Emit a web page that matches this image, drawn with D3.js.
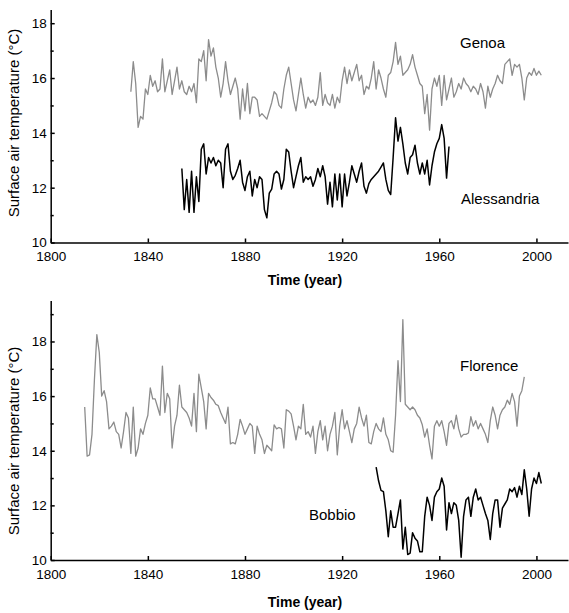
<!DOCTYPE html>
<html>
<head>
<meta charset="utf-8">
<script src="https://cdn.jsdelivr.net/npm/d3@7"></script>
<style>
  html, body { margin: 0; padding: 0; background: #fff; }
  svg { display: block; font-family: "Liberation Sans", Arial, sans-serif; }
</style>
</head>
<body>
<svg id="chart" width="569" height="613"></svg>
<script>
// ---------------- DATA ----------------
const xTicks = [1800, 1840, 1880, 1920, 1960, 2000];
const yTicksMajor = [10, 12, 14, 16, 18];
const yTicksMinorTop = [11, 13, 15, 17];
const yTicksMinorBottom = [11, 13, 15, 17, 19];

const genoaStart = 1833;
const genoaTemp = [
  15.5,16.6,15.8,14.2,14.6,14.5,15.6,15.4,16.1,15.7,
  15.9,15.5,15.6,16.7,15.5,15.9,16.3,15.4,15.9,16.4,
  15.6,15.9,15.5,15.4,15.7,15.5,15.8,15.1,16.7,16.6,
  17.0,15.9,17.4,16.8,17.1,16.4,16.0,15.3,15.8,16.6,
  15.9,15.4,15.7,16.0,15.6,14.5,15.6,14.8,15.8,14.7,
  15.3,15.3,15.2,14.6,14.7,14.6,14.5,14.8,15.1,15.5,
  15.4,15.0,14.9,15.6,16.1,16.4,15.8,15.2,14.8,15.4,
  16.0,15.4,14.9,15.3,15.1,15.2,15.0,15.3,16.2,15.0,
  15.4,15.1,15.0,15.4,14.9,15.3,15.1,15.9,16.4,15.8,
  16.3,15.9,16.2,16.5,15.9,16.1,15.4,15.7,15.6,16.0,
  16.6,15.6,16.3,16.0,15.6,15.3,16.1,16.2,16.6,17.3,
  16.5,16.8,16.1,16.2,16.3,16.5,16.85,16.4,16.1,15.8,
  15.7,14.7,15.4,14.1,15.6,16.0,15.7,16.1,15.0,16.1,
  15.2,15.6,16.0,15.3,15.5,15.8,15.6,16.0,15.8,15.7,
  15.5,15.7,15.6,15.4,15.8,15.5,14.9,15.7,15.3,15.6,
  15.8,16.1,15.9,15.8,16.5,16.6,16.7,16.1,16.5,16.4,
  16.5,16.0,15.2,16.0,16.2,16.1,16.35,16.1,16.25,16.1
];

const alessandriaStart = 1854;
const alessandriaTemp = [
  12.7,11.2,12.3,11.1,12.6,11.1,12.4,11.5,13.4,13.6,
  12.5,13.1,12.9,13.1,12.8,13.0,12.9,12.0,13.4,13.6,
  12.6,12.3,12.45,12.7,13.0,12.2,11.9,12.4,12.6,11.7,
  12.3,12.0,12.4,12.3,11.2,10.9,11.8,11.95,12.5,12.6,
  12.5,11.95,12.3,13.4,13.3,12.6,12.0,12.4,12.8,13.1,
  12.2,12.4,12.3,12.4,12.05,12.3,12.7,12.4,12.8,12.4,
  11.4,12.2,11.3,12.5,11.55,12.5,11.3,12.5,11.7,12.2,
  12.8,12.5,12.2,12.6,12.9,12.05,11.8,12.15,12.3,12.4,
  12.5,12.6,12.75,12.9,12.3,11.9,11.75,13.1,14.55,13.7,
  14.2,13.6,12.9,12.5,13.1,13.2,13.55,12.9,12.5,12.9,
  12.5,13.0,12.1,12.8,13.3,13.6,13.8,14.3,13.8,12.35,
  13.5
];

const florenceStart = 1814;
const florenceTemp = [
  15.6,13.8,13.85,14.6,16.6,18.25,17.6,16.0,16.2,15.8,
  14.8,14.9,15.05,14.7,14.6,14.1,14.7,15.4,15.2,13.9,
  15.6,13.8,14.1,14.8,14.6,15.0,15.3,16.3,15.9,15.9,
  15.6,15.3,17.1,15.4,16.1,15.9,14.1,14.9,15.3,16.4,
  15.6,15.5,15.4,15.2,14.9,16.1,14.7,16.8,16.3,15.8,
  14.8,16.1,15.95,15.85,15.7,15.65,15.4,15.2,15.0,15.6,
  14.25,14.3,14.25,14.6,15.15,14.9,14.6,14.8,15.0,14.9,
  13.9,14.9,14.6,14.4,13.9,14.2,14.1,14.0,14.95,14.8,
  14.85,14.8,14.1,15.5,15.45,15.35,14.9,14.4,14.9,14.8,
  15.7,14.6,14.7,14.5,14.9,13.9,14.7,15.1,14.4,14.9,
  14.0,14.6,14.9,15.4,13.85,14.9,15.5,14.8,15.1,14.7,
  14.3,14.8,15.0,15.6,15.2,14.9,15.3,14.3,14.25,14.7,
  15.0,14.8,14.7,15.2,14.6,14.4,14.0,13.95,15.3,17.3,
  15.8,18.8,15.7,15.6,15.5,15.6,15.5,15.3,15.2,14.95,
  14.5,14.8,14.2,13.7,14.9,15.1,14.9,15.1,14.7,14.2,
  15.0,15.1,14.8,15.3,14.8,14.5,14.6,14.6,14.65,15.25,
  14.9,15.1,14.8,15.0,14.8,14.6,14.3,15.1,15.6,15.3,
  14.8,15.3,15.5,15.6,15.85,15.7,16.1,15.8,14.9,16.0,
  16.2,16.7
];

const bobbioStart = 1934;
const bobbioTemp = [
  13.4,12.9,12.55,12.5,11.8,10.85,11.8,11.2,11.2,11.7,
  12.2,10.4,11.2,10.2,10.25,11.0,10.8,10.7,10.3,10.3,
  11.6,12.3,12.0,11.45,12.3,12.5,12.6,13.0,12.7,11.1,
  12.1,11.7,12.1,12.0,11.45,10.1,11.6,12.2,12.3,11.6,
  12.3,12.6,12.2,12.3,12.0,11.7,11.45,10.75,11.7,12.2,
  12.2,11.2,11.9,12.05,12.2,12.6,12.5,12.65,12.3,12.7,
  12.4,13.3,12.6,11.6,12.6,13.0,12.8,13.2,12.8
];

// ---------------- DRAW ----------------
const svg = d3.select("#chart");
const GRAY = "#8c8c8c";
const BLACK = "#000000";

function toPoints(start, values) {
  return values.map((v, i) => ({ year: start + i, t: v }));
}

const panels = [
  {
    yTop: 9.5, yBottom: 242.5, yMax: 18.5, minor: yTicksMinorTop,
    titleY: 123, xTitleY: 285,
    series: [
      { name: "Genoa", start: genoaStart, values: genoaTemp, color: GRAY, width: 1.3, lx: 460, ly: 48 },
      { name: "Alessandria", start: alessandriaStart, values: alessandriaTemp, color: BLACK, width: 1.5, lx: 461, ly: 204 }
    ]
  },
  {
    yTop: 300.5, yBottom: 560, yMax: 19.5, minor: yTicksMinorBottom,
    titleY: 441, xTitleY: 607,
    series: [
      { name: "Florence", start: florenceStart, values: florenceTemp, color: GRAY, width: 1.3, lx: 460, ly: 371 },
      { name: "Bobbio", start: bobbioStart, values: bobbioTemp, color: BLACK, width: 1.5, lx: 309, ly: 519.5 }
    ]
  }
];

const x = d3.scaleLinear().domain([1800, 2013]).range([50.7, 568]);

panels.forEach(p => {
  const y = d3.scaleLinear().domain([10, p.yMax]).range([p.yBottom, p.yTop]);
  const g = svg.append("g");

  // series lines
  p.series.forEach(s => {
    const line = d3.line().x(d => x(d.year)).y(d => y(d.t));
    g.append("path")
      .datum(toPoints(s.start, s.values))
      .attr("fill", "none")
      .attr("stroke", s.color)
      .attr("stroke-width", s.width)
      .attr("stroke-linejoin", "round")
      .attr("d", line);
    g.append("text")
      .attr("x", s.lx).attr("y", s.ly)
      .attr("font-size", 15)
      .attr("fill", "#000")
      .text(s.name);
  });

  // y axis (major)
  const yAxis = g.append("g")
    .attr("transform", `translate(${x(1800)},0)`)
    .call(d3.axisLeft(y).tickValues(yTicksMajor).tickFormat(d3.format("d"))
      .tickSizeInner(-4).tickSizeOuter(0).tickPadding(4));
  // y minor ticks
  const yMinor = g.append("g")
    .attr("transform", `translate(${x(1800)},0)`)
    .call(d3.axisLeft(y).tickValues(p.minor).tickFormat("")
      .tickSizeInner(-3).tickSizeOuter(0));
  yMinor.select(".domain").remove();

  // x axis
  const xAxis = g.append("g")
    .attr("transform", `translate(0,${p.yBottom})`)
    .call(d3.axisBottom(x).tickValues(xTicks).tickFormat(d3.format("d"))
      .tickSizeInner(-4).tickSizeOuter(0).tickPadding(9));

  [yAxis, yMinor, xAxis].forEach(a => {
    a.selectAll("path, line").attr("stroke", "#000").attr("stroke-width", 1.5);
    a.selectAll("text").attr("font-size", 13.5).attr("fill", "#000")
      .attr("font-family", '"Liberation Sans", Arial, sans-serif');
  });

  // axis titles
  g.append("text")
    .attr("x", 305).attr("y", p.xTitleY)
    .attr("text-anchor", "middle")
    .attr("font-size", 14).attr("font-weight", "bold")
    .text("Time (year)");
  g.append("text")
    .attr("transform", `translate(19,${p.titleY}) rotate(-90)`)
    .attr("text-anchor", "middle")
    .attr("font-size", 15)
    .text("Surface air temperature (°C)");
});
</script>
</body>
</html>
